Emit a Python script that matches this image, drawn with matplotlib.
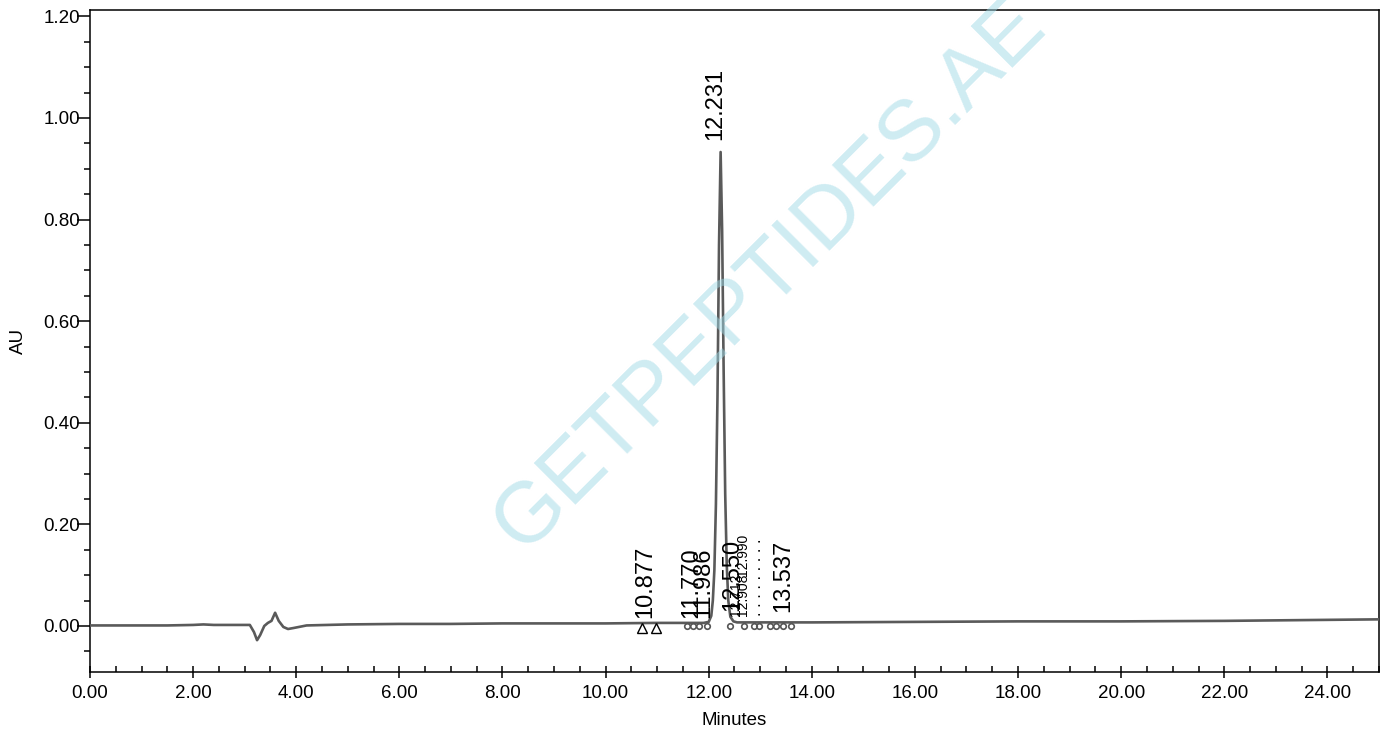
# cromatograma HPLC con etiquetas de picos
import matplotlib
matplotlib.use("Agg")
import matplotlib.pyplot as plt

plt.rcParams['font.family'] = ['Liberation Sans', 'DejaVu Sans']

# Traza (minutos, AU)
tiempo = [0.00, 0.50, 1.00, 1.50, 2.00, 2.20, 2.40, 2.80, 3.10, 3.18, 3.24, 3.30,
          3.38, 3.45, 3.52, 3.59, 3.66, 3.75, 3.84, 3.95, 4.20, 5.00, 6.00, 7.00,
          8.00, 9.00, 10.00, 11.00, 11.60, 11.90, 12.00, 12.05, 12.08, 12.11,
          12.14, 12.17, 12.20, 12.231, 12.26, 12.29, 12.32, 12.35, 12.38, 12.42,
          12.48, 12.55, 13.00, 14.00, 16.00, 18.00, 20.00, 22.00, 24.00, 25.00]
senal = [0.001, 0.001, 0.001, 0.001, 0.002, 0.003, 0.002, 0.002, 0.002, -0.012,
         -0.028, -0.018, 0.000, 0.006, 0.010, 0.026, 0.010, -0.002, -0.006, -0.004,
         0.001, 0.003, 0.004, 0.004, 0.005, 0.005, 0.005, 0.006, 0.006, 0.006,
         0.008, 0.020, 0.050, 0.110, 0.240, 0.450, 0.750, 0.933, 0.780, 0.500,
         0.260, 0.120, 0.050, 0.018, 0.009, 0.007, 0.007, 0.007, 0.008, 0.009,
         0.009, 0.010, 0.012, 0.013]

# Etiquetas de picos: texto, posicion x y altura
etiquetas = ['10.877', '11.770', '11.986', '12.231', '12.550', '13.537']
etiq_x = [10.877, 11.770, 11.986, 12.231, 12.550, 13.537]
etiq_y = [0.016, 0.016, 0.016, 0.957, 0.030, 0.027]

# Etiquetas diminutas amontonadas
etiq_peq = ['12.712', '12.908', '12.990']
etiq_peq_x = [12.66, 12.80, 12.80]
etiq_peq_y = [0.020, 0.020, 0.098]

# Marcas de inicio/fin de pico
triang_x = [10.70, 10.98]
triang_y = [-0.004, -0.004]
circ_x = [11.57, 11.69, 11.82, 11.96, 12.42, 12.69, 12.87, 12.98, 13.18, 13.31, 13.45, 13.59]
circ_y = [0.0] * len(circ_x)

fig = plt.figure(figsize=(13.87, 7.34), dpi=100)
ax = fig.add_axes([0.0649, 0.0845, 0.9293, 0.9019])

# Marca de agua
fig.text(0.555, 0.625, 'GETPEPTIDES.AE', fontsize=62, rotation=45,
         color='#9fd9e6', alpha=0.5, ha='center', va='center', zorder=0)

ax.plot(tiempo, senal, color='#5a5a5a', linewidth=1.9, zorder=3)
ax.plot(triang_x, triang_y, '^', mfc='white', mec='black', ms=6.5, mew=1.0, zorder=4)
ax.plot(circ_x, circ_y, 'o', mfc='none', mec='#555555', ms=4, mew=1.2, zorder=4)

for t, x, y in zip(etiquetas, etiq_x, etiq_y):
    ax.text(x - 0.1, y, t, rotation=90, fontsize=17, ha='center', va='bottom', zorder=5)
for t, x, y in zip(etiq_peq, etiq_peq_x, etiq_peq_y):
    ax.text(x, y, t, rotation=90, fontsize=10, ha='right', va='bottom', zorder=5)
ax.text(13.08, 0.020, '. . . . . . . . .', rotation=90, fontsize=12,
        ha='right', va='bottom', zorder=5)

ax.set_xlim(0, 25)
ax.set_ylim(-0.0906, 1.2126)

ax.set_xticks([0, 2, 4, 6, 8, 10, 12, 14, 16, 18, 20, 22, 24])
ax.set_xticklabels(['%.2f' % v for v in ax.get_xticks()])
ax.set_xticks([v * 0.5 for v in range(51)], minor=True)
ax.set_yticks([0.0, 0.2, 0.4, 0.6, 0.8, 1.0, 1.2])
ax.set_yticklabels(['%.2f' % v for v in ax.get_yticks()])
ax.set_yticks([-0.05 + v * 0.05 for v in range(26)], minor=True)

ax.tick_params(axis='x', which='major', direction='inout', length=8.6, width=1.1,
               pad=5, labelsize=13.5)
ax.tick_params(axis='x', which='minor', direction='in', length=4.3, width=1.1)
ax.tick_params(axis='y', which='major', direction='out', length=9.4, width=1.1,
               pad=-2.2, labelsize=13.5)
ax.tick_params(axis='y', which='minor', direction='out', length=4.3, width=1.1)

for s in ax.spines.values():
    s.set_linewidth(1.1)

ax.set_xlabel('Minutes', fontsize=13.5)
ax.set_ylabel('AU', fontsize=13.5)
ax.xaxis.set_label_coords(0.5, -0.06)
ax.yaxis.set_label_coords(-0.049, 0.5)

fig.savefig('out.png', dpi=100)
plt.close(fig)
